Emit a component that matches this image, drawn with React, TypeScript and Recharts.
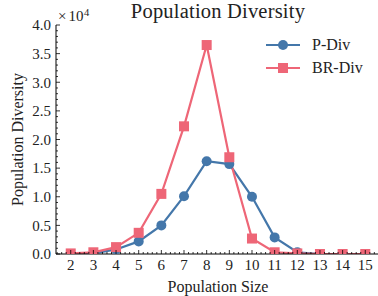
import React from 'react';
import { LineChart, Line, XAxis, YAxis, Legend, Label } from 'recharts';

const sizes = [2, 3, 4, 5, 6, 7, 8, 9, 10, 11, 12, 13, 14, 15];
const pDiv = [0, 100, 800, 2200, 5000, 10100, 16200, 15700, 10000, 2900, 300, 0, 0, 0];
const brDiv = [100, 300, 1200, 3700, 10500, 22300, 36500, 16900, 2700, 300, 100, 0, 0, 0];
const xMajorTicks = [2, 3, 4, 5, 6, 7, 8, 9, 10, 11, 12, 13, 14, 15];
const yMajorTicks = [0, 5000, 10000, 15000, 20000, 25000, 30000, 35000, 40000];

const BLUE = '#4477AA';
const PINK = '#EE6677';
const FONT = '"Liberation Serif", serif';
const TM = 4;

const data = sizes.map((s, i) => ({ size: s, p: pDiv[i], br: brDiv[i] }));

const xTicks: number[] = [];
for (let i = 7; i <= 78; i++) xTicks.push(Math.round(i * 2) / 10);
const yTicks: number[] = [];
for (let i = 0; i <= 40; i++) yTicks.push(i * 1000);

const isXMajor = (v: number) => xMajorTicks.some((t) => Math.abs(t - v) < 1e-6);
const isYMajor = (v: number) => yMajorTicks.includes(v);

const BottomTick = (props: any) => {
  const { x, y, payload } = props;
  const v = payload.value;
  const major = isXMajor(v);
  const ay = y - TM;
  return (
    <g>
      <line x1={x} x2={x} y1={ay} y2={ay - (major ? 4 : 2)} stroke="#000" strokeWidth={0.8} />
      {major && (
        <text x={x} y={y + 1.5} textAnchor="middle" dy="0.71em" fontFamily={FONT} fontSize={15} fill="#222">
          {v}
        </text>
      )}
    </g>
  );
};

const TopTick = (props: any) => {
  const { x, y, payload } = props;
  const major = isXMajor(payload.value);
  const ay = y + TM;
  return <line x1={x} x2={x} y1={ay} y2={ay + (major ? 4 : 2)} stroke="#000" strokeWidth={0.8} />;
};

const LeftTick = (props: any) => {
  const { x, y, payload } = props;
  const v = payload.value;
  const major = isYMajor(v);
  const ax = x + TM;
  return (
    <g>
      <line x1={ax} x2={ax + (major ? 4 : 2)} y1={y} y2={y} stroke="#000" strokeWidth={0.8} />
      {major && (
        <text x={x - 1} y={y} textAnchor="end" dy="0.35em" fontFamily={FONT} fontSize={15} fill="#222">
          {(v / 10000).toFixed(1)}
        </text>
      )}
    </g>
  );
};

const RightTick = (props: any) => {
  const { x, y, payload } = props;
  const major = isYMajor(payload.value);
  const ax = x - TM;
  return <line x1={ax} x2={ax - (major ? 4 : 2)} y1={y} y2={y} stroke="#000" strokeWidth={0.8} />;
};

const SquareDot = (p: any) => {
  if (p.cx == null || p.cy == null) return <g key={p.index} />;
  return <rect key={p.index} x={p.cx - 5} y={p.cy - 5} width={10} height={10} fill={PINK} />;
};

const CircleDot = (p: any) => {
  if (p.cx == null || p.cy == null) return <g key={p.index} />;
  return <circle key={p.index} cx={p.cx} cy={p.cy} r={5} fill={BLUE} />;
};

const LegendContent = () => {
  const items = [
    { name: 'P-Div', color: BLUE, shape: 'circle' },
    { name: 'BR-Div', color: PINK, shape: 'square' },
  ];
  return (
    <div style={{ fontFamily: FONT, fontSize: 16, color: '#222' }}>
      {items.map((it) => (
        <div key={it.name} style={{ display: 'flex', alignItems: 'center', height: 23 }}>
          <svg width={36} height={14} style={{ marginRight: 11 }}>
            <line x1={1} x2={35} y1={7} y2={7} stroke={it.color} strokeWidth={2.2} />
            {it.shape === 'circle' ? (
              <circle cx={18} cy={7} r={5} fill={it.color} />
            ) : (
              <rect x={13} y={2} width={10} height={10} fill={it.color} />
            )}
          </svg>
          <span>{it.name}</span>
        </div>
      ))}
    </div>
  );
};

export default function App() {
  return (
    <div style={{ position: 'absolute', left: 0, top: 0, width: 378, height: 296, overflow: 'hidden', background: '#fff' }}>
      <div
        style={{
          position: 'absolute',
          left: 0,
          width: 436,
          top: 1.2,
          height: 22,
          lineHeight: '20.5px',
          textAlign: 'center',
          fontFamily: FONT,
          fontSize: 20.5,
          letterSpacing: 0.2,
          color: '#222',
          whiteSpace: 'nowrap',
        }}
      >
        Population Diversity
      </div>
      <div
        style={{
          position: 'absolute',
          left: 58,
          top: 9,
          lineHeight: '15px',
          fontFamily: FONT,
          fontSize: 15,
          color: '#222',
          whiteSpace: 'nowrap',
        }}
      >
        <span style={{ marginRight: 2 }}>×</span>10
        <span style={{ fontSize: 10.5, position: 'relative', top: -5, marginLeft: 0.5 }}>4</span>
      </div>
      <LineChart width={382} height={296} data={data} margin={{ top: 25, right: 2, bottom: 0, left: 0 }}>
        <XAxis
          dataKey="size"
          type="number"
          domain={[1.35, 15.65]}
          allowDataOverflow
          ticks={xTicks}
          interval={0}
          tickSize={0}
          tickMargin={TM}
          height={42}
          tick={<BottomTick />}
          axisLine={{ stroke: '#000', strokeWidth: 1 }}
        >
          <Label value="Population Size" position="insideBottom" offset={4} style={{ fontFamily: FONT, fontSize: 16, fill: '#222' }} />
        </XAxis>
        <XAxis
          xAxisId="top"
          orientation="top"
          dataKey="size"
          type="number"
          domain={[1.35, 15.65]}
          allowDataOverflow
          ticks={xTicks}
          interval={0}
          tickSize={0}
          tickMargin={TM}
          height={0}
          tick={<TopTick />}
          axisLine={{ stroke: '#000', strokeWidth: 1 }}
        />
        <YAxis
          type="number"
          domain={[0, 40000]}
          allowDataOverflow
          ticks={yTicks}
          interval={0}
          tickSize={0}
          tickMargin={TM}
          width={56}
          tick={<LeftTick />}
          axisLine={{ stroke: '#000', strokeWidth: 1 }}
        >
          <Label
            value="Population Diversity"
            angle={-90}
            position="insideLeft"
            offset={17}
            style={{ fontFamily: FONT, fontSize: 16, fill: '#222', textAnchor: 'middle' }}
          />
        </YAxis>
        <YAxis
          yAxisId="right"
          orientation="right"
          type="number"
          domain={[0, 40000]}
          allowDataOverflow
          ticks={yTicks}
          interval={0}
          tickSize={0}
          tickMargin={TM}
          width={0}
          tick={<RightTick />}
          axisLine={{ stroke: '#000', strokeWidth: 1 }}
        />
        <Legend
          layout="vertical"
          align="center"
          verticalAlign="middle"
          content={<LegendContent />}
          wrapperStyle={{ position: 'absolute', left: 265, top: 33, width: 110, height: 50 }}
        />
        <Line
          dataKey="p"
          name="P-Div"
          stroke={BLUE}
          strokeWidth={2.2}
          dot={CircleDot}
          activeDot={false}
          isAnimationActive={false}
        />
        <Line
          dataKey="br"
          name="BR-Div"
          stroke={PINK}
          strokeWidth={2.2}
          dot={SquareDot}
          activeDot={false}
          isAnimationActive={false}
        />
      </LineChart>
    </div>
  );
}
